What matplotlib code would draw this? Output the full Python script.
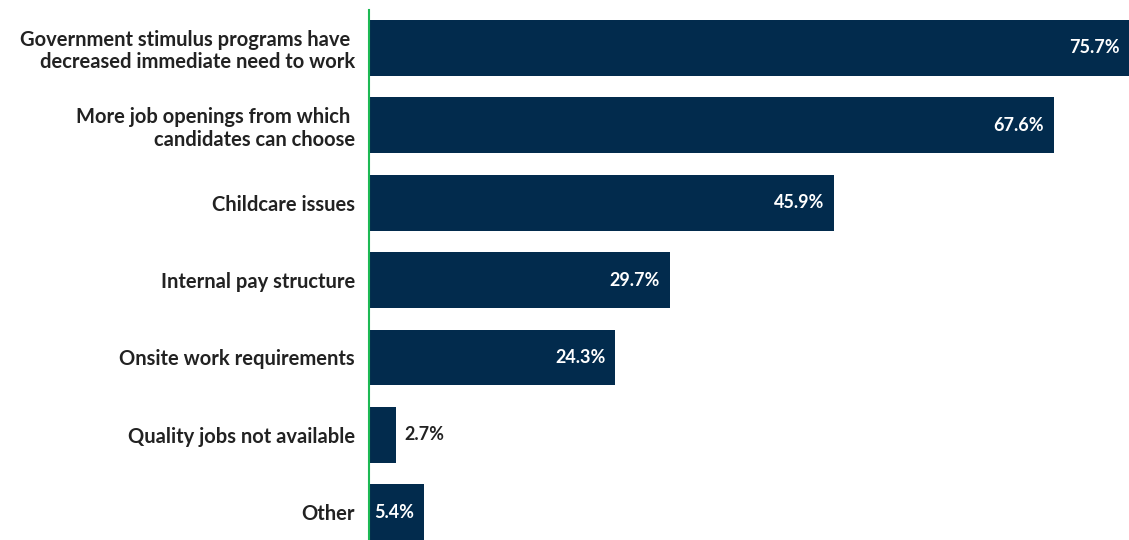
import matplotlib
matplotlib.use("Agg")
from matplotlib import pyplot as plt

# reasons cited, top to bottom
reasons = [
    "Government stimulus programs have \ndecreased immediate need to work",
    "More job openings from which \ncandidates can choose",
    "Childcare issues",
    "Internal pay structure",
    "Onsite work requirements",
    "Quality jobs not available",
    "Other",
]
shares = [75.7, 67.6, 45.9, 29.7, 24.3, 2.7, 5.4]

navy = "#022b4d"
green = "#1db954"
text_dark = "#222222"

plt.rcParams["font.family"] = ["Lato", "DejaVu Sans"]

fig = plt.figure(figsize=(11.29, 5.4), dpi=100)
ax = fig.add_axes([0.3268, 0.0, 0.6732, 0.9815])

pos = list(range(len(reasons)))
ax.barh(pos, shares, height=0.72, color=navy, zorder=2)

xmax = 75.0
ax.set_xlim(0, xmax)
ax.set_ylim(6.36, -0.49)

# value labels: inside the bar when it is wide enough, otherwise just after it
for y, v in zip(pos, shares):
    lab = f"{v}%"
    if v >= 5:
        ax.annotate(lab, (min(v, xmax), y), xytext=(-7, 0), textcoords="offset points",
                    ha="right", va="center", color="white", fontsize=13, fontweight="bold")
    else:
        ax.annotate(lab, (v, y), xytext=(6, 0), textcoords="offset points",
                    ha="left", va="center", color=text_dark, fontsize=13, fontweight="bold")

ax.set_yticks(pos)
ax.set_yticklabels(reasons, fontsize=14.5, fontweight="bold", color=text_dark,
                   multialignment="right", linespacing=1.15)
ax.tick_params(axis="y", length=0, pad=10)
ax.set_xticks([])

for side in ["top", "right", "bottom"]:
    ax.spines[side].set_visible(False)
ax.spines["left"].set_color(green)
ax.spines["left"].set_linewidth(1.5)
ax.spines["left"].set_zorder(3)

fig.savefig("out.png", dpi=100)
